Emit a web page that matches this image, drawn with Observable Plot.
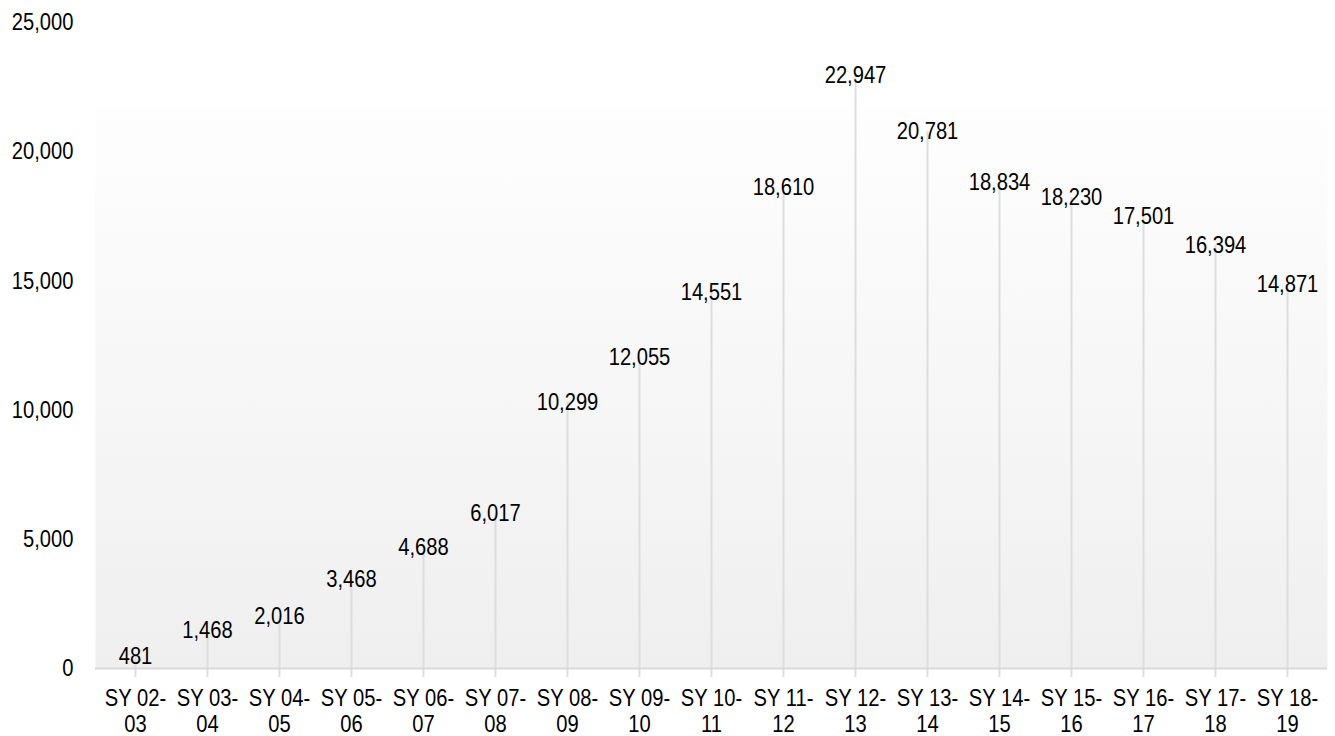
<!DOCTYPE html>
<html>
<head>
<meta charset="utf-8">
<script src="https://cdn.jsdelivr.net/npm/d3@7"></script>
<script src="https://cdn.jsdelivr.net/npm/@observablehq/plot@0.6"></script>
<style>
  html, body { margin: 0; padding: 0; background: #ffffff; }
  #chart { width: 1335px; height: 736px; }
</style>
</head>
<body>
<div id="chart"></div>
<script>
const categories = ["SY 02-03","SY 03-04","SY 04-05","SY 05-06","SY 06-07","SY 07-08","SY 08-09","SY 09-10","SY 10-11","SY 11-12","SY 12-13","SY 13-14","SY 14-15","SY 15-16","SY 16-17","SY 17-18","SY 18-19"];
const values = [481,1468,2016,3468,4688,6017,10299,12055,14551,18610,22947,20781,18834,18230,17501,16394,14871];
const yTicks = [0,5000,10000,15000,20000,25000];

const data = categories.map((c, i) => ({cat: c, value: values[i]}));
const fmt = d3.format(",");
const FONT = "'Liberation Sans', Arial, sans-serif";

const chart = Plot.plot({
  width: 1335,
  height: 736,
  marginTop: 22,
  marginBottom: 68,
  marginLeft: 95,
  marginRight: 8,
  style: {fontFamily: FONT, fontSize: "24px", color: "#000", background: "transparent"},
  x: {type: "band", domain: categories, padding: 0, label: null},
  y: {domain: [0, 25000], label: null},
  marks: [
    Plot.frame({fill: "url(#bggrad)", stroke: "none", insetTop: 84}),
    Plot.axisY({ticks: yTicks, tickSize: 0, tickPadding: 22, tickFormat: fmt, label: null, fontSize: 24}),
    Plot.axisX({tickSize: 0, tickPadding: 18, label: null, fontSize: 24, lineHeight: 1.12,
      tickFormat: d => d.replace("-", "-\n")}),
    Plot.ruleX(data, {x: "cat", y1: 0, y2: "value", stroke: "#dddddd", strokeWidth: 2, insetTop: 9}),
    Plot.ruleY([0], {stroke: "#d9d9d9", strokeWidth: 2}),
    Plot.text(data, {x: "cat", y: "value", text: d => fmt(d.value), fontSize: 24, fill: "#000"})
  ]
});

const ns = "http://www.w3.org/2000/svg";
const defs = document.createElementNS(ns, "defs");
defs.innerHTML = '<linearGradient id="bggrad" x1="0" y1="0" x2="0" y2="1">' +
  '<stop offset="0" stop-color="#fefefe"/><stop offset="1" stop-color="#efefef"/></linearGradient>';
chart.insertBefore(defs, chart.firstChild);
document.getElementById("chart").appendChild(chart);

// Condense glyphs to mimic a narrow face (no narrow font installed)
chart.querySelectorAll("text").forEach(t => {
  const spans = t.querySelectorAll("tspan");
  const els = spans.length ? Array.from(spans) : [t];
  els.forEach(el => {
    const len = el.getComputedTextLength();
    if (len > 0) {
      el.setAttribute("textLength", (len * 0.84).toFixed(2));
      el.setAttribute("lengthAdjust", "spacingAndGlyphs");
    }
  });
});
</script>
</body>
</html>
